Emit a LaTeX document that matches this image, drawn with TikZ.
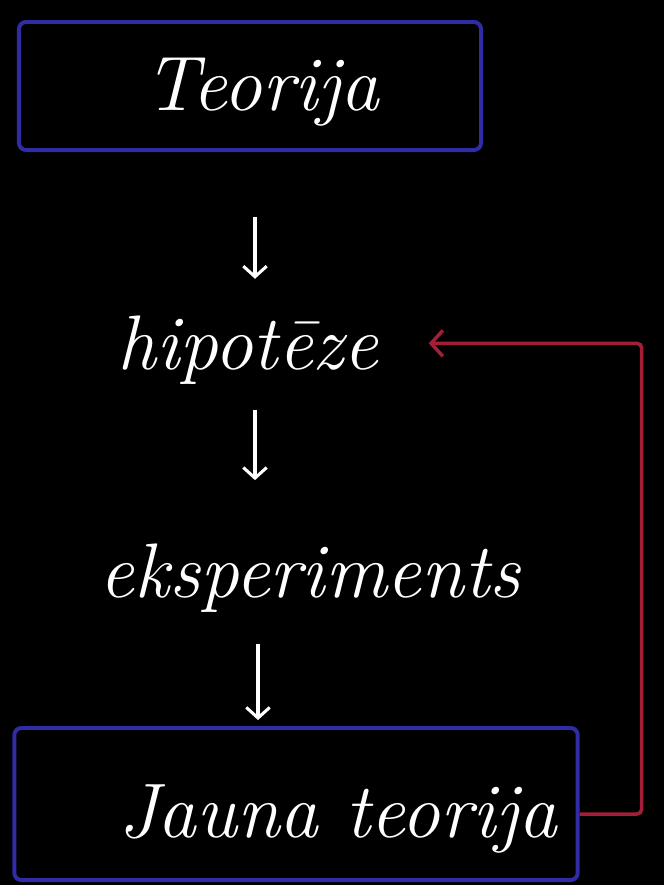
\documentclass[tikz,border=0pt]{standalone}
\usetikzlibrary{arrows.meta,positioning}
\definecolor{boxblue}{RGB}{48,44,165}
\definecolor{loopred}{RGB}{165,30,55}
\begin{document}
\begin{tikzpicture}[x=0.03cm,y=-0.03cm]
	\tikzset{Hand/.style = {text=white, font=\fontsize{66}{76}\selectfont\itshape, inner sep=0pt}}
	\tikzset{Frame/.style = {draw=boxblue, line width=3.4pt, rounded corners=6pt}}
	\tikzset{Step/.style = {white, line width=2.6pt, -{Straight Barb[length=9pt,width=20pt]}}}
	\tikzset{Back/.style = {loopred, line width=3pt, rounded corners=4pt, -{Straight Barb[length=10pt,width=22pt]}}}

	\fill [black] (0,0) rectangle (664,885);
	\useasboundingbox (0,0) rectangle (664,885);

	% boxes with their words
	\node (teorija) at (250,86) [Frame, minimum width=13.86cm, minimum height=3.84cm,
		label={[Hand, xshift=0.36cm, yshift=-0.2cm]center:Teorija}] {};
	\node (hipoteze) at (248,350) [Hand] {hipotēze};
	\node (eksperiments) at (310,578) [Hand] {eksperiments};
	\node (jauna) at (296,804) [Frame, minimum width=16.9cm, minimum height=4.56cm,
		label={[Hand, xshift=1.25cm, yshift=-0.45cm]center:Jauna teorija}] {};

	\draw [Step, shorten <=1.95cm, shorten >=1.1cm] ([xshift=0.15cm]teorija.south) -- ([xshift=0.15cm]teorija.south |- hipoteze.north);
	\draw [Step, shorten <=0.75cm, shorten >=1.9cm] ([xshift=0.15cm]teorija.south |- hipoteze.south) -- ([xshift=0.15cm]teorija.south |- eksperiments.north);
	\draw [Step, shorten <=0.95cm, shorten >=0.18cm] ([xshift=0.24cm]teorija.south |- eksperiments.south) -- ([xshift=0.24cm]teorija.south |- jauna.north);
	\draw [Back] ([yshift=-0.3cm]jauna.east) -- ++(62,0) |- ([xshift=1.5cm, yshift=0.2cm]hipoteze.east);
\end{tikzpicture}
\end{document}
